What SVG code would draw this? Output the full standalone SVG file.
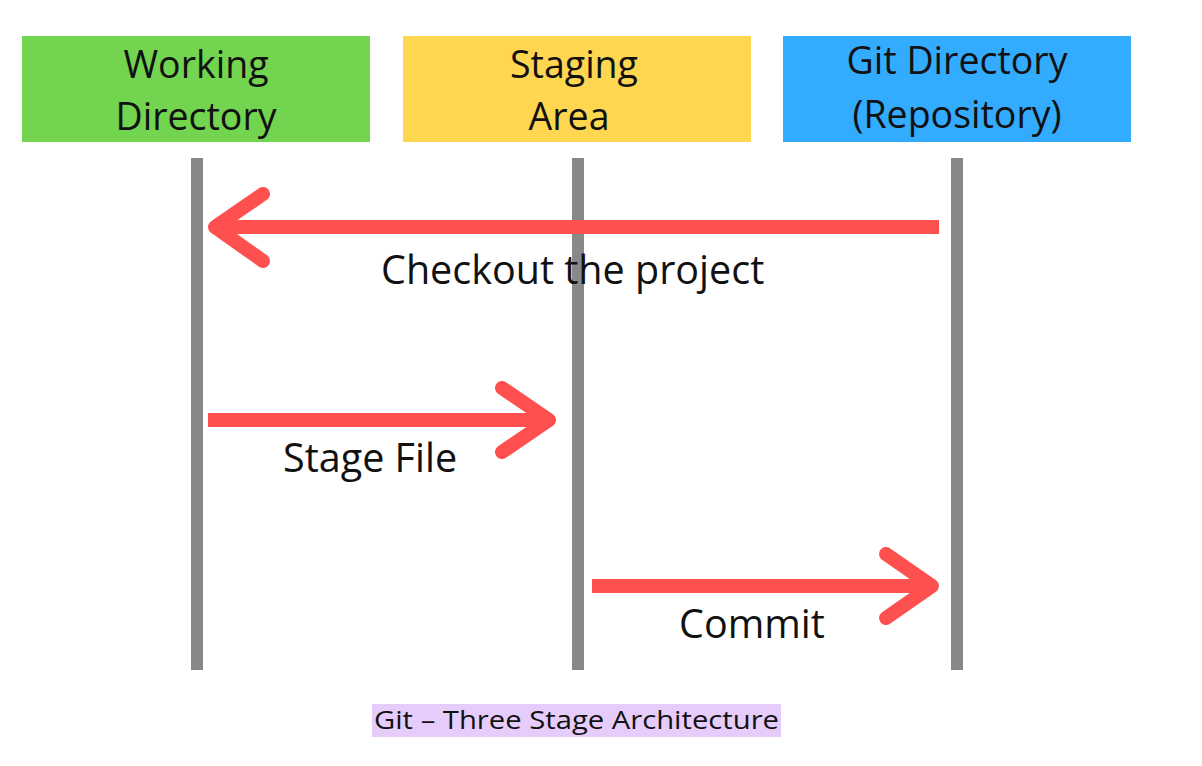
<svg xmlns="http://www.w3.org/2000/svg" width="1202" height="766" viewBox="0 0 1202 766">
<style>
.hdr{font-family:"Open Sans","Noto Sans",sans-serif;font-size:37.5px;fill:#111;text-anchor:middle}
.lbl{font-family:"Open Sans","Noto Sans",sans-serif;font-size:39.5px;fill:#111}
.life{stroke:#888;stroke-width:12;fill:none}
.shaft{stroke:#ff5050;stroke-width:14;fill:none;stroke-linecap:butt}
.head{stroke:#ff5050;stroke-width:14;fill:none;stroke-linecap:round;stroke-linejoin:round}
.cap{font-family:"Open Sans","Noto Sans",sans-serif;font-size:26px;fill:#111}
</style>
<rect width="1202" height="766" fill="#fff"/>
<g id="working">
<rect x="22" y="36" width="348" height="106" fill="#73d44f"/>
<text class="hdr" x="196" y="78">Working</text>
<text class="hdr" x="196" y="130">Directory</text>
<line class="life" x1="197" y1="158" x2="197" y2="670"/>
</g>
<g id="staging">
<rect x="403" y="36" width="348" height="106" fill="#fed64f"/>
<text class="hdr" x="574" y="78">Staging</text>
<text class="hdr" x="569" y="130">Area</text>
<line class="life" x1="578" y1="158" x2="578" y2="670"/>
</g>
<g id="gitdir">
<rect x="783" y="36" width="348" height="106" fill="#33abfe"/>
<text class="hdr" x="957" y="74">Git Directory</text>
<text class="hdr" x="957" y="128">(Repository)</text>
<line class="life" x1="957" y1="158" x2="957" y2="670"/>
</g>
<g id="connectors">
<line class="shaft" x1="939" y1="227" x2="220" y2="227"/>
<polyline class="head" points="263,194 215,227 263,261"/>
<text class="lbl" x="381" y="284" font-size="40.2">Checkout the project</text>
<line class="shaft" x1="208" y1="420" x2="542" y2="420"/>
<polyline class="head" points="502,388 549,420 502,452"/>
<text class="lbl" x="283" y="472">Stage File</text>
<line class="shaft" x1="592" y1="586" x2="926" y2="586"/>
<polyline class="head" points="886,554 932,586 886,618"/>
<text class="lbl" x="679" y="638">Commit</text>
</g>
<g id="caption">
<rect x="372" y="704" width="409" height="33" fill="#e5ccfb"/>
<text class="cap" x="374" y="729" textLength="405" lengthAdjust="spacingAndGlyphs">Git – Three Stage Architecture</text>
</g>
</svg>
